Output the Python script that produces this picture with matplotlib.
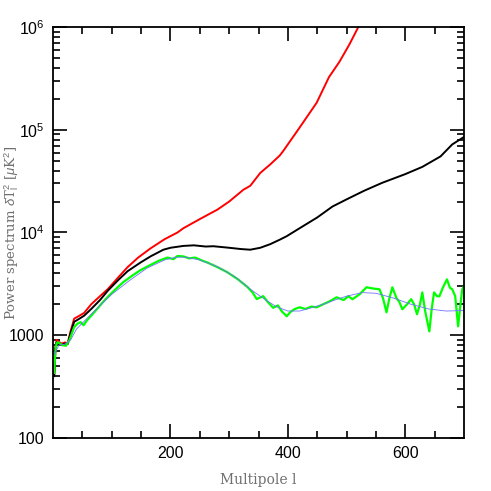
import matplotlib
matplotlib.use("Agg")
import matplotlib.pyplot as plt
from matplotlib.ticker import FixedLocator, FuncFormatter, LogLocator, NullFormatter

plt.rcParams["mathtext.fontset"] = "custom"
plt.rcParams["mathtext.rm"] = "Liberation Sans"
plt.rcParams["mathtext.it"] = "Liberation Sans:italic"

# red spectrum
red_l = [2, 4, 6, 10, 15, 20, 25, 30, 36, 45, 53, 65, 80, 93, 110, 127, 145, 166, 190,
         212, 222, 250, 280, 300, 324, 336, 353, 370, 386, 392, 420, 449, 470, 488, 505, 520]
red_p = [420, 700, 900, 860, 830, 850, 840, 1100, 1450, 1550, 1650, 2000, 2400, 2800, 3600,
         4600, 5700, 7000, 8600, 10000, 11000, 13500, 16700, 20000, 26000, 28500, 38000,
         46000, 56000, 62000, 105000, 183000, 325000, 460000, 680000, 1000000]

# black spectrum
black_l = [2, 4, 6, 10, 15, 20, 25, 30, 36, 45, 53, 65, 80, 93, 110, 127, 149, 166, 188, 200,
           222, 240, 260, 273, 300, 320, 336, 353, 370, 386, 398, 420, 450, 476, 500, 530,
           561, 600, 629, 660, 680, 697, 700]
black_p = [400, 750, 850, 820, 800, 830, 820, 1050, 1350, 1450, 1550, 1800, 2200, 2700, 3400,
           4200, 5100, 5850, 6800, 7100, 7400, 7500, 7300, 7350, 7100, 6900, 6800, 7100, 7700,
           8500, 9200, 11000, 14000, 17900, 21000, 25500, 30500, 37000, 43500, 55000, 72000,
           83000, 85000]

# green spectrum
green_l = [2, 4, 6, 8, 12, 16, 22, 28, 36, 42, 47, 52, 58, 65, 75, 85, 93, 105, 120, 135, 149,
           165, 180, 195, 205, 212, 222, 232, 242, 255, 263, 280, 297, 315, 331, 340, 347,
           358, 366, 375, 383, 390, 398, 405, 412, 420, 430, 440, 449, 460, 472, 483, 495,
           503, 510, 522, 534, 545, 556, 562, 568, 573, 578, 585, 590, 595, 603, 610, 615,
           620, 625, 629, 634, 641, 645, 649, 654, 658, 664, 671, 676, 680, 685, 690, 694,
           697, 700]
green_p = [430, 700, 830, 855, 830, 800, 790, 900, 1200, 1300, 1340, 1250, 1400, 1550, 1800,
           2100, 2350, 2750, 3300, 3800, 4300, 4800, 5300, 5700, 5500, 5900, 5850, 5600, 5700,
           5300, 5100, 4600, 4100, 3500, 2950, 2600, 2250, 2400, 2100, 1850, 1950, 1700, 1530,
           1700, 1800, 1870, 1800, 1900, 1870, 2000, 2150, 2340, 2200, 2400, 2240, 2500, 2930,
           2850, 2800, 2300, 1670, 2300, 2930, 2300, 2100, 1790, 2000, 2240, 2000, 1600, 2000,
           2610, 1700, 1090, 1800, 2610, 2400, 2390, 2900, 3500, 2900, 2800, 2400, 1220, 2000,
           2800, 3000]

# smooth model (blue)
blue_l = [2, 10, 20, 30, 40, 60, 80, 100, 130, 160, 190, 210, 225, 250, 280, 310, 340, 360,
          380, 400, 420, 440, 460, 480, 500, 527, 550, 580, 610, 640, 670, 700]
blue_p = [650, 800, 820, 900, 1150, 1500, 1950, 2500, 3400, 4500, 5400, 5750, 5750, 5400,
          4650, 3700, 2700, 2250, 1900, 1720, 1720, 1850, 2000, 2200, 2400, 2600, 2560, 2300,
          2000, 1800, 1720, 1740]

y_ticks = [100, 1000, 1e4, 1e5, 1e6]
y_labels = ["100", "1000", r"$10^4$", r"$10^5$", r"$10^6$"]
x_ticks = [200, 400, 600]

fig = plt.figure(figsize=(4.91, 4.91), dpi=100)
ax = fig.add_axes([0.108, 0.108, 0.837, 0.837])

ax.plot(red_l, red_p, color="#ff0000", lw=1.4)
ax.plot(black_l, black_p, color="black", lw=1.4)
ax.plot(green_l, green_p, color="#00ff00", lw=1.6)
ax.plot(blue_l, blue_p, color="#7070ff", lw=0.6)

ax.set_yscale("log")
ax.set_xlim(0, 700)
ax.set_ylim(100, 1e6)

ax.xaxis.set_major_locator(FixedLocator(x_ticks))
ax.xaxis.set_minor_locator(FixedLocator(range(50, 700, 50)))
ax.yaxis.set_major_locator(FixedLocator(y_ticks))
ax.yaxis.set_minor_locator(LogLocator(base=10, subs=range(2, 10)))
ax.yaxis.set_minor_formatter(NullFormatter())
ax.yaxis.set_major_formatter(FuncFormatter(lambda v, p: y_labels[y_ticks.index(v)] if v in y_ticks else ""))

ax.tick_params(which="both", direction="in", top=True, right=True, width=1.2, pad=6)
ax.tick_params(which="major", length=10)
ax.tick_params(which="minor", length=5)
for lab in ax.get_xticklabels() + ax.get_yticklabels():
    lab.set_fontfamily("Liberation Sans")
    lab.set_fontsize(11.5)
for side in ["left", "right", "top", "bottom"]:
    ax.spines[side].set_linewidth(1.3)

ax.set_xlabel("Multipole l", family="DejaVu Serif", fontsize=10, color="#707070")
ax.xaxis.set_label_coords(0.5, -0.085)
ax.set_ylabel(r"Power spectrum $\delta$T$_{\rm l}^2$ [$\mu$K$^2$]", family="DejaVu Serif",
              fontsize=9.5, color="#707070")
ax.yaxis.set_label_coords(-0.078, 0.5)

fig.savefig("out.png", dpi=100)
